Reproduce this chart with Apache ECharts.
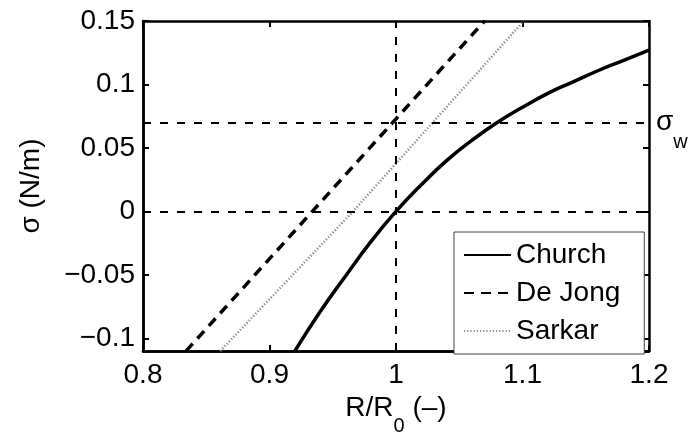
<!DOCTYPE html>
<html>
<head>
<meta charset="utf-8">
<script src="https://cdn.jsdelivr.net/npm/echarts@6/dist/echarts.min.js"></script>
<style>
html,body{margin:0;padding:0;background:#fff;}
#c{width:696px;height:441px;}
</style>
</head>
<body>
<div id="c"></div>
<script>
// Data
const xTicks = [0.8, 0.9, 1.0, 1.1, 1.2];
const yTicks = [-0.1, -0.05, 0, 0.05, 0.1, 0.15];

const churchX = [0.92, 0.94, 0.96, 0.98, 1.00, 1.02, 1.04, 1.06, 1.08, 1.10, 1.12, 1.14, 1.16, 1.18, 1.20];
const churchY = [-0.110, -0.079, -0.051, -0.024, 0.000, 0.021, 0.040, 0.056, 0.070, 0.082, 0.093, 0.102, 0.111, 0.119, 0.127];

const deJongX = [0.834, 1.070];
const deJongY = [-0.110, 0.150];

const sarkarX = [0.861, 0.966, 1.101];
const sarkarY = [-0.110, 0.000, 0.150];

const sigmaW = 0.072;
const refX = 1.0;
const refY0 = 0;

const FONT = 'Liberation Sans, Arial, Helvetica, sans-serif';
const FS = 28;

function pairs(xs, ys) { return xs.map((x, i) => [x, ys[i]]); }

const chart = echarts.init(document.getElementById('c'), null, {renderer: 'canvas'});

function xAxisDef(pos, withLabels, withTicks) {
  return {
    type: 'value', min: 0.8, max: 1.2, position: pos,
    axisLine: {show: true, onZero: false, lineStyle: {color: '#000', width: 2.5}},
    axisTick: {show: withTicks, inside: true, length: 6, customValues: xTicks, lineStyle: {color: '#000', width: 2}},
    axisLabel: {show: withLabels, customValues: xTicks, margin: 10, color: '#000', fontSize: FS, fontFamily: FONT,
      formatter: v => String(+v.toFixed(2))},
    splitLine: {show: false}
  };
}
function yAxisDef(pos, withLabels, withTicks) {
  return {
    type: 'value', min: -0.11, max: 0.15, position: pos,
    axisLine: {show: true, onZero: false, lineStyle: {color: '#000', width: 2.5}},
    axisTick: {show: withTicks, inside: true, length: 6, customValues: yTicks, lineStyle: {color: '#000', width: 2}},
    axisLabel: {show: withLabels, customValues: yTicks, margin: 8, color: '#000', fontSize: FS, fontFamily: FONT,
      formatter: v => {
        const r = +v.toFixed(3);
        return r < 0 ? '\u2212' + String(-r) : String(r);
      }},
    splitLine: {show: false}
  };
}

const xBottom = Object.assign(xAxisDef('bottom', true, false), {
  name: '{a|R/R}{b|0}{a| (–)}',
  nameLocation: 'middle', nameGap: 34,
  nameTextStyle: {rich: {
    a: {fontSize: FS, color: '#000', fontFamily: FONT},
    b: {fontSize: 20, color: '#000', fontFamily: FONT, verticalAlign: 'bottom', padding: [0, 0, -14, 0]}
  }}
});
const yLeft = Object.assign(yAxisDef('left', true, false), {
  name: 'σ (N/m)', nameLocation: 'middle', nameGap: 98, nameRotate: 90,
  nameTextStyle: {fontSize: FS, color: '#000', fontFamily: FONT}
});

const dashStyle = {color: '#000', width: 2, type: [8, 9]};

chart.setOption({
  animation: false,
  backgroundColor: '#fff',
  textStyle: {fontFamily: FONT},
  grid: {left: 143, right: 47, top: 21, bottom: 83, containLabel: false},
  xAxis: [xBottom, xAxisDef('top', false, true), xAxisDef('bottom', false, true)],
  yAxis: [yLeft, yAxisDef('right', false, true), yAxisDef('left', false, true)],
  legend: {
    orient: 'vertical',
    left: 454, top: 232,
    padding: [9, 24, 9, 9],
    itemWidth: 47, itemHeight: 14, itemGap: 10, itemTextGap: 6,
    borderColor: '#444', borderWidth: 1, backgroundColor: '#fff',
    itemStyle: {opacity: 0},
    textStyle: {fontSize: FS, color: '#000', fontFamily: FONT},
    data: ['Church', 'De Jong', 'Sarkar']
  },
  series: [
    {
      name: 'refs', type: 'line', data: [], silent: true,
      markLine: {
        silent: true, symbol: 'none', animation: false,
        lineStyle: dashStyle,
        label: {show: false},
        emphasis: {disabled: true},
        data: [
          {xAxis: refX},
          {yAxis: refY0},
          {yAxis: sigmaW, label: {show: true, position: 'end', distance: 7,
            formatter: '{s|σ}{w|w}',
            rich: {
              s: {fontSize: FS, color: '#000', fontFamily: FONT},
              w: {fontSize: 20, color: '#000', fontFamily: FONT, verticalAlign: 'bottom', padding: [0, 0, -16, 0]}
            }}}
        ]
      }
    },
    {
      name: 'Church', type: 'line', data: pairs(churchX, churchY), smooth: true,
      showSymbol: false, symbol: 'none', clip: true,
      lineStyle: {color: '#000', width: 3.5, type: 'solid'},
      itemStyle: {color: '#000'}
    },
    {
      name: 'De Jong', type: 'line', data: pairs(deJongX, deJongY),
      showSymbol: false, symbol: 'none', clip: true,
      lineStyle: {color: '#000', width: 3.5, type: [10, 7]},
      itemStyle: {color: '#000'}
    },
    {
      name: 'Sarkar', type: 'line', data: pairs(sarkarX, sarkarY),
      showSymbol: false, symbol: 'none', clip: true,
      lineStyle: {color: '#888', width: 2.5, type: [1.2, 2]},
      itemStyle: {color: '#888'}
    }
  ]
});
</script>
</body>
</html>
